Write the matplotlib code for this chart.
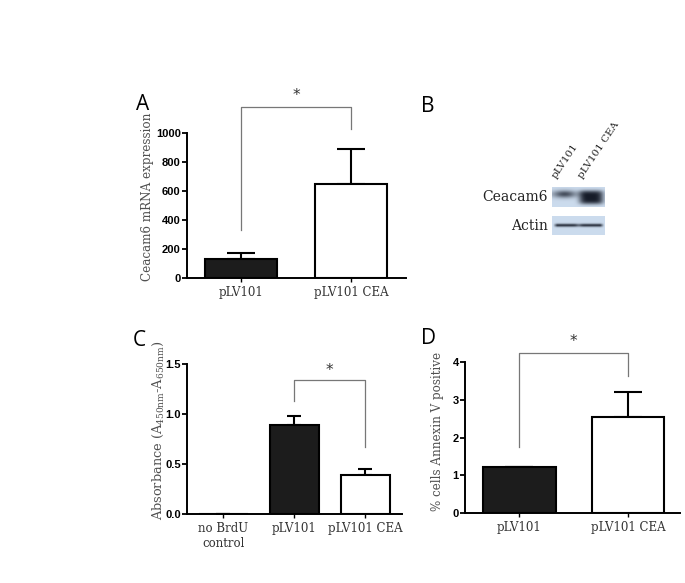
import numpy as np
import matplotlib
matplotlib.use("Agg")
import matplotlib.pyplot as plt

# ---- data ----
catA = ["pLV101", "pLV101 CEA"]
meanA = [130, 650]
errA = [42, 242]
yticksA = [0, 200, 400, 600, 800, 1000]

catC = ["no BrdU\ncontrol", "pLV101", "pLV101 CEA"]
meanC = [0.0, 0.89, 0.39]
errC = [0.0, 0.09, 0.06]
yticksC = [0.0, 0.5, 1.0, 1.5]

catD = ["pLV101", "pLV101 CEA"]
meanD = [1.22, 2.55]
errD = [0.0, 0.66]
yticksD = [0, 1, 2, 3, 4]

blot_lanes = ["pLV101", "pLV101 CEA"]
blot_rows = ["Ceacam6", "Actin"]

W, H = 685, 583
fig = plt.figure(figsize=(W / 100, H / 100), dpi=100)
fig.patch.set_facecolor("white")

def ax_px(l, t, r, b):
    return fig.add_axes([l / W, 1 - b / H, (r - l) / W, (b - t) / H])

SERIF = ["DejaVu Serif"]
DARK = "#1c1c1c"
LABC = "#505050"

def style(ax, yticks, fmt):
    for s in ["top", "right"]:
        ax.spines[s].set_visible(False)
    for s in ["left", "bottom"]:
        ax.spines[s].set_linewidth(1.4)
    ax.set_yticks(yticks)
    ax.set_yticklabels([fmt(v) for v in yticks], fontsize=8,
                       fontweight="bold", family="Liberation Sans")
    ax.tick_params(axis="y", direction="out", length=3.5, width=1.3, pad=1)
    ax.tick_params(axis="x", direction="out", length=3, width=1.0, pad=3)

def bars(ax, cats, means, errs, width, capsize):
    x = np.arange(len(cats))
    colors = [DARK if i < len(cats) - 1 else "white" for i in range(len(cats))]
    ax.bar(x, means, width=width, color=colors, edgecolor="black",
           linewidth=1.5, zorder=2)
    ax.errorbar(x, means, yerr=[np.zeros(len(errs)), errs], fmt="none",
                ecolor="black", elinewidth=1.5, capsize=capsize,
                capthick=1.5, zorder=1)
    ax.set_xticks(x)
    ax.set_xticklabels(cats, family=SERIF, fontsize=8.5, color="#333333")
    return x

def bracket(ax, x0, x1, ytop, yl, yr, ystar):
    ax.plot([x0, x0, x1, x1], [yl, ytop, ytop, yr], color="#777777",
            lw=0.9, clip_on=False, zorder=3)
    ax.text((x0 + x1) / 2, ystar, "*", ha="center", va="center",
            fontsize=11, color="#333333", clip_on=False)

def ylab(text, xpx, ypx, size):
    fig.text(xpx / W, 1 - ypx / H, text, rotation=90, ha="center",
             va="center", family=SERIF, fontsize=size, color=LABC)

# ---- Panel A ----
axA = ax_px(187, 133, 406, 278)
bars(axA, catA, meanA, errA, 0.66, 10)
axA.set_xlim(-0.49, 1.5)
axA.set_ylim(0, 1000)
style(axA, yticksA, lambda v: f"{v:d}")
ylab("Ceacam6 mRNA expression", 148, 197, 8.6)
bracket(axA, 0, 1, 1179, 331, 1028, 1260)
fig.text(136 / W, 1 - 105 / H, "A", fontsize=15, family="Open Sans",
         va="center", ha="left")

# ---- Panel C ----
axC = ax_px(187, 364, 402, 514)
bars(axC, catC, meanC, errC, 0.69, 5)
axC.set_xlim(-0.51, 2.52)
axC.set_ylim(0, 1.5)
style(axC, yticksC, lambda v: f"{v:.1f}")
ylab(r"Absorbance (A$_{\mathregular{450nm}}$-A$_{\mathregular{650nm}}$)",
     158, 430, 9.3)
bracket(axC, 1, 2, 1.34, 1.13, 0.67, 1.43)
fig.text(133 / W, 1 - 341 / H, "C", fontsize=15, family="Open Sans",
         va="center", ha="left")

# ---- Panel D ----
axD = ax_px(465, 362, 680, 513)
bars(axD, catD, meanD, errD, 0.67, 10)
axD.set_xlim(-0.5, 1.48)
axD.set_ylim(0, 4)
style(axD, yticksD, lambda v: f"{v:d}")
ylab("% cells Annexin V positive", 438, 431, 8.6)
bracket(axD, 0, 1, 4.24, 1.75, 3.63, 4.55)
fig.text(421 / W, 1 - 339 / H, "D", fontsize=15, family="Open Sans",
         va="center", ha="left")

# ---- Panel B (western blot illustration) ----
fig.text(421 / W, 1 - 107 / H, "B", fontsize=15, family="Open Sans",
         va="center", ha="left")

def blot_img(kind):
    h, w = 40, 106
    yy, xx = np.mgrid[0:h, 0:w]
    bg = np.array([0.80, 0.86, 0.93])
    img = np.ones((h, w, 3)) * bg
    if kind == "Ceacam6":
        d1 = 0.7 * np.exp(-((xx - 25) / 24.0) ** 2 - ((yy - 15) / 7.0) ** 2)
        d2 = 0.95 * np.exp(-((xx - 78) / 24.0) ** 4 - ((yy - 21) / 13.0) ** 4)
        d = np.clip(d1 + d2, 0, 0.95)
    else:
        d = 0.85 * np.exp(-((yy - 19) / 3.2) ** 2) * np.clip(
            1 - 0.3 * np.exp(-((xx - 53) / 6.0) ** 2), 0, 1)
        d *= np.clip((xx - 2) / 8.0, 0, 1) * np.clip((w - 2 - xx) / 8.0, 0, 1)
    dark = np.array([0.05, 0.07, 0.12])
    img = img * (1 - d[..., None]) + dark * d[..., None]
    return img

for name, (t, b) in zip(blot_rows, [(187, 207), (216, 235)]):
    axb = ax_px(552, t, 605, b)
    axb.imshow(blot_img(name), aspect="auto", interpolation="bilinear")
    axb.axis("off")
    fig.text(548 / W, 1 - (t + b) / 2 / H, name, ha="right", va="center",
             family=SERIF, fontsize=10, color="#222222")

for lane, xpx in zip(blot_lanes, [558, 584]):
    fig.text(xpx / W, 1 - 180 / H, lane, rotation=56, ha="left", va="bottom",
             rotation_mode="anchor", family=SERIF, fontsize=7.5,
             color="#222222")

fig.savefig("out.png", dpi=100, facecolor="white")
